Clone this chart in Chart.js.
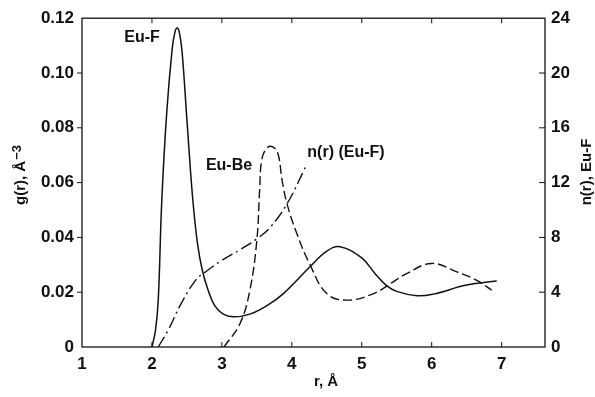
<!DOCTYPE html>
<html>
<head>
<meta charset="utf-8">
<script src="https://cdn.jsdelivr.net/npm/chart.js@4.4.0/dist/chart.umd.min.js"></script>
<style>
  html, body { margin: 0; padding: 0; background: #fff; }
  #wrap { width: 595px; height: 397px; position: relative; }
</style>
</head>
<body>
<div id="wrap"><canvas id="rdf"></canvas></div>
<script>
// ===============================
// Data
// ===============================
const xTicks = [1, 2, 3, 4, 5, 6, 7];
const gTicks = [0, 0.02, 0.04, 0.06, 0.08, 0.10, 0.12];
const nTicks = [0, 4, 8, 12, 16, 20, 24];

// Eu-F g(r), solid
const euF_r = [2.00, 2.05, 2.09, 2.14, 2.21, 2.29, 2.33, 2.36, 2.39, 2.43, 2.50, 2.58, 2.65, 2.72, 2.80, 2.90, 3.02, 3.17, 3.40, 3.65, 3.88, 4.26, 4.50, 4.69, 5.00, 5.20, 5.35, 5.50, 5.79, 6.02, 6.50, 6.93];
const euF_g = [0, 0.006, 0.017, 0.053, 0.085, 0.109, 0.1150, 0.1164, 0.1150, 0.108, 0.083, 0.055, 0.038, 0.028, 0.021, 0.015, 0.012, 0.011, 0.012, 0.0152, 0.0195, 0.0293, 0.0350, 0.0366, 0.0325, 0.0265, 0.0225, 0.0203, 0.0187, 0.0193, 0.0226, 0.0241];

// Eu-Be g(r), dashed
const euBe_r = [3.03, 3.26, 3.40, 3.50, 3.54, 3.57, 3.64, 3.72, 3.80, 3.86, 3.93, 4.07, 4.26, 4.50, 4.79, 5.17, 5.45, 5.64, 6.00, 6.36, 6.64, 6.86];
const euBe_g = [0, 0.0086, 0.0207, 0.039, 0.0573, 0.0683, 0.0725, 0.0731, 0.0707, 0.061, 0.0524, 0.0415, 0.030, 0.0195, 0.0171, 0.0195, 0.0238, 0.0268, 0.0305, 0.0274, 0.0244, 0.0207];

// n(r) Eu-F, dash-dot, right axis
const nEuF_r = [2.09, 2.24, 2.40, 2.62, 2.76, 2.98, 3.26, 3.50, 3.69, 3.93, 4.17, 4.21];
const nEuF_n = [0, 1.3, 3.0, 4.85, 5.46, 6.26, 7.1, 7.89, 8.73, 10.44, 12.86, 13.35];

const FONT = '"Liberation Sans", Arial, Helvetica, sans-serif';
const pts = (xs, ys) => xs.map((x, i) => ({ x: x, y: ys[i] }));

// ===============================
// Frame, inward ticks and text
// ===============================
const framePlugin = {
  id: "frame",
  afterDraw(chart) {
    const { ctx, chartArea: a, scales } = chart;
    const sx = scales.x, sy = scales.y, sn = scales.y2;
    ctx.save();
    ctx.strokeStyle = "#111";
    ctx.lineWidth = 1.3;
    ctx.strokeRect(a.left, a.top, a.right - a.left, a.bottom - a.top);

    ctx.lineWidth = 1;
    ctx.beginPath();
    xTicks.slice(1).forEach(v => {
      const px = sx.getPixelForValue(v);
      ctx.moveTo(px, a.bottom); ctx.lineTo(px, a.bottom - 5);
      ctx.moveTo(px, a.top); ctx.lineTo(px, a.top + 5);
    });
    gTicks.slice(1, -1).forEach(v => {
      const py = sy.getPixelForValue(v);
      ctx.moveTo(a.left, py); ctx.lineTo(a.left - 5, py);
    });
    nTicks.slice(1, -1).forEach(v => {
      const py = sn.getPixelForValue(v);
      ctx.moveTo(a.right, py); ctx.lineTo(a.right - 6, py);
    });
    ctx.stroke();

    ctx.fillStyle = "#111";
    ctx.textAlign = "center";
    ctx.textBaseline = "middle";
    ctx.font = "bold 16px " + FONT;
    ctx.fillText("Eu-F", 142, 38);
    ctx.fillText("Eu-Be", 229, 166);
    ctx.fillText("n(r) (Eu-F)", 346, 153);

    // x title
    ctx.font = "bold 15px " + FONT;
    ctx.fillText("r, Å", 326, 382);

    // left title with superscript
    ctx.save();
    ctx.translate(21, 175);
    ctx.rotate(-Math.PI / 2);
    const main = "g(r), Å";
    const sup = "−3";
    ctx.font = "bold 15px " + FONT;
    const w1 = ctx.measureText(main).width;
    ctx.font = "bold 13px " + FONT;
    const w2 = ctx.measureText(sup).width;
    const start = -(w1 + w2 + 1) / 2;
    ctx.textAlign = "left";
    ctx.font = "bold 15px " + FONT;
    ctx.fillText(main, start, 0);
    ctx.font = "bold 13px " + FONT;
    ctx.fillText(sup, start + w1 + 1, -4);
    ctx.restore();

    // right title
    ctx.save();
    ctx.translate(587, 172);
    ctx.rotate(-Math.PI / 2);
    ctx.font = "bold 15px " + FONT;
    ctx.fillText("n(r), Eu-F", 0, 0);
    ctx.restore();

    ctx.restore();
  }
};

const tickFont = { family: FONT, size: 17, weight: "bold" };

new Chart(document.getElementById("rdf"), {
  type: "scatter",
  data: {
    datasets: [
      {
        label: "Eu-F",
        data: pts(euF_r, euF_g),
        yAxisID: "y",
        showLine: true,
        borderColor: "#111",
        borderWidth: 1.5,
        pointRadius: 0,
        tension: 0.4
      },
      {
        label: "Eu-Be",
        data: pts(euBe_r, euBe_g),
        yAxisID: "y",
        showLine: true,
        borderColor: "#111",
        borderWidth: 1.4,
        borderDash: [9, 4],
        pointRadius: 0,
        tension: 0.4
      },
      {
        label: "n(r) (Eu-F)",
        data: pts(nEuF_r, nEuF_n),
        yAxisID: "y2",
        showLine: true,
        borderColor: "#111",
        borderWidth: 1.4,
        borderDash: [12, 4, 2, 4],
        pointRadius: 0,
        tension: 0.4
      }
    ]
  },
  options: {
    responsive: true,
    maintainAspectRatio: false,
    animation: false,
    layout: { padding: { top: 17, left: 0, right: 0, bottom: 0 } },
    plugins: { legend: { display: false }, tooltip: { enabled: false } },
    scales: {
      x: {
        type: "linear",
        position: "bottom",
        min: 1,
        max: 7.62,
        grid: { display: false, drawTicks: false },
        border: { display: false },
        afterBuildTicks: s => { s.ticks = xTicks.map(v => ({ value: v })); },
        afterFit: s => { s.height = 50; },
        ticks: { color: "#111", font: tickFont, padding: 7, maxRotation: 0, callback: v => String(v) }
      },
      y: {
        type: "linear",
        position: "left",
        min: 0,
        max: 0.12,
        grid: { display: false, drawTicks: false },
        border: { display: false },
        afterBuildTicks: s => { s.ticks = gTicks.map(v => ({ value: v })); },
        afterFit: s => { s.width = 82; },
        ticks: { color: "#111", font: tickFont, padding: 8, callback: v => v === 0 ? "0" : v.toFixed(2) }
      },
      y2: {
        type: "linear",
        position: "right",
        min: 0,
        max: 24,
        grid: { display: false, drawTicks: false },
        border: { display: false },
        afterBuildTicks: s => { s.ticks = nTicks.map(v => ({ value: v })); },
        afterFit: s => { s.width = 50; },
        ticks: { color: "#111", font: tickFont, padding: 6, callback: v => String(v) }
      }
    }
  },
  plugins: [framePlugin]
});
</script>
</body>
</html>
